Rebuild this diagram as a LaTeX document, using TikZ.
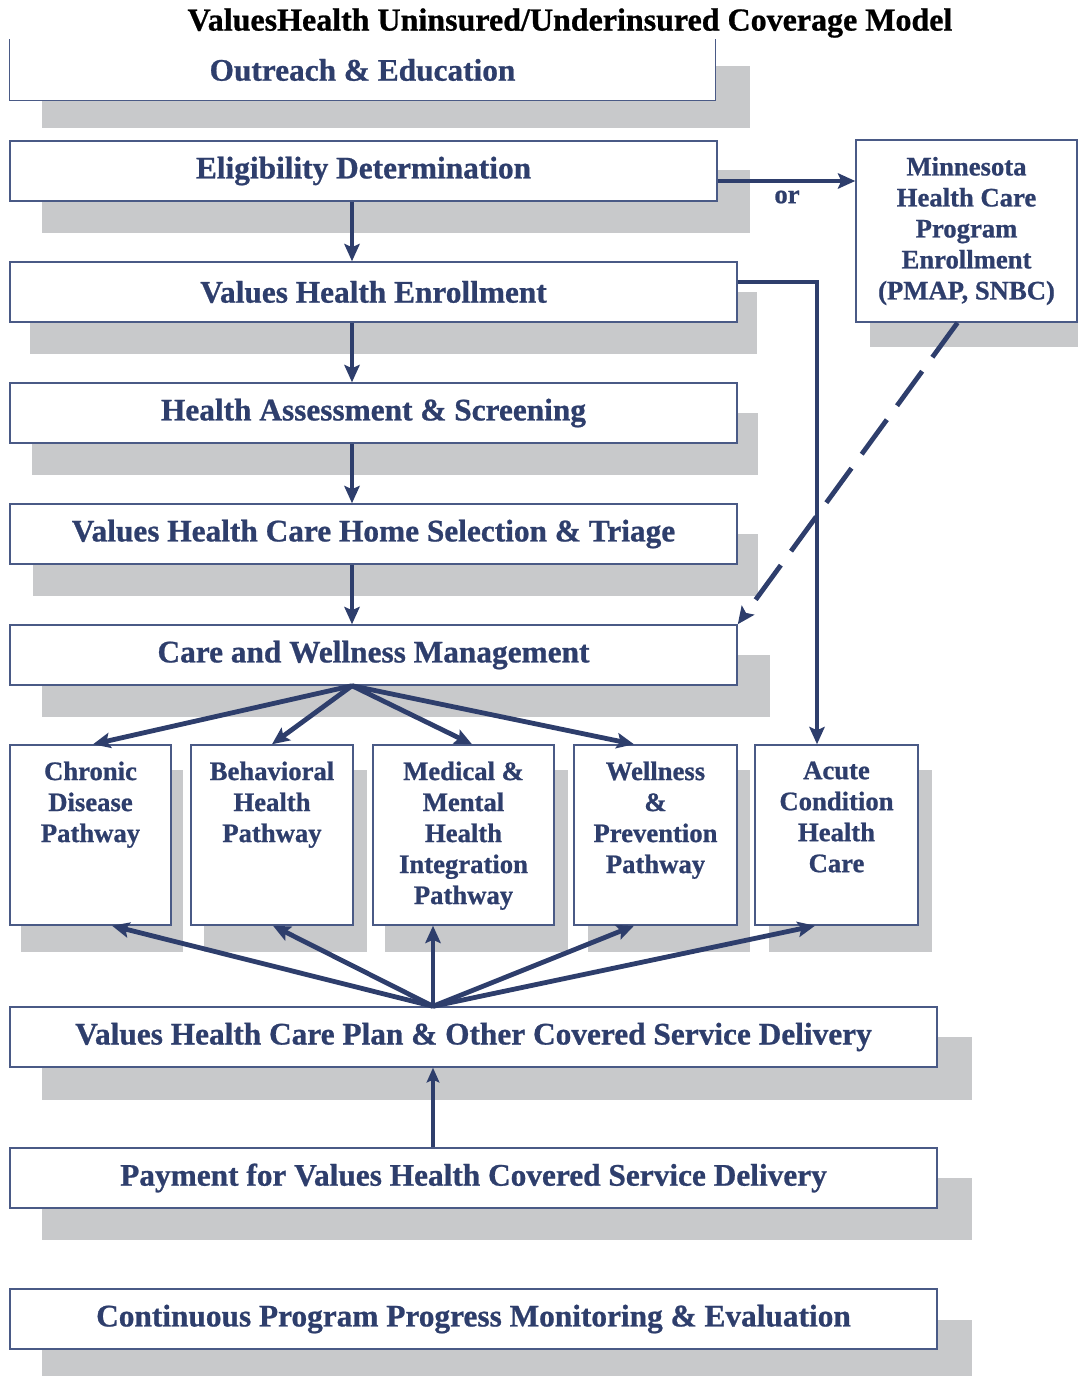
\documentclass[tikz,border=0pt]{standalone}
\usepackage{fontspec}
\setmainfont{Liberation Serif}
\newfontfamily\heavy{Liberation Serif Bold}[FakeBold=0.8]
\usetikzlibrary{arrows.meta,calc}
\definecolor{navy}{HTML}{2E3E6C}
\definecolor{bord}{HTML}{4A5A86}
\definecolor{shad}{HTML}{C8C9CB}
\def\pxu{0.75pt}
\begin{document}
\begin{tikzpicture}[x=0.75pt,y=-0.75pt,
  box/.style={draw=bord, line width=1.1pt, fill=white, inner sep=0pt},
  wtext/.style={text=navy, font=\fontsize{23.5pt}{28pt}\selectfont\heavy},
  ptext/.style={text=navy, inner sep=0pt, align=center, font=\fontsize{20pt}{23.25pt}\selectfont\heavy},
  arr/.style={draw=navy, line width=3.6pt, -{Stealth[length=13pt,width=11.5pt,inset=2.5pt]}},
  thinarr/.style={draw=navy, line width=2.6pt, -{Stealth[length=11pt,width=9.5pt,inset=2pt]}}]
\useasboundingbox (0,0) rectangle (1078,1376);
% shadows
\fill[shad] (42,66) rectangle (750,128);
\fill[shad] (42,170) rectangle (750,233);
\fill[shad] (870,165) rectangle (1078,347);
\fill[shad] (30,292) rectangle (757,354);
\fill[shad] (32,413) rectangle (758,475);
\fill[shad] (33,534) rectangle (758,596);
\fill[shad] (42,655) rectangle (770,717);
\fill[shad] (21,770) rectangle (183,952);
\fill[shad] (204,770) rectangle (367,952);
\fill[shad] (385,770) rectangle (568,952);
\fill[shad] (588,770) rectangle (750,952);
\fill[shad] (769,770) rectangle (932,952);
\fill[shad] (42,1037) rectangle (972,1100);
\fill[shad] (42,1178) rectangle (972,1240);
\fill[shad] (42,1320) rectangle (972,1376);
% title
\node[font=\fontsize{24pt}{28pt}\selectfont\heavy, inner sep=0pt] (title) at (570,23) {ValuesHealth Uninsured/Underinsured Coverage Model};
% boxes
\node[box, draw=none, wtext, minimum width=705*\pxu, minimum height=60*\pxu] (out) at (362.5,70) {Outreach \& Education};
\draw[bord, line width=1.1pt] (out.north west) -- (out.south west) -- (out.south east) -- (out.north east);
\node[box, wtext, minimum width=707*\pxu, minimum height=60*\pxu] (elig) at (363.5,171) {Eligibility Determination};
\node[box, ptext, minimum width=221*\pxu, minimum height=182*\pxu] (mn) at (966.5,231) {Minnesota\\Health Care\\Program\\Enrollment\\(PMAP, SNBC)};
\node[box, wtext, minimum width=727*\pxu, minimum height=60*\pxu] (enr) at (373.5,292) {Values Health Enrollment};
\node[box, wtext, minimum width=727*\pxu, minimum height=60*\pxu] (ass) at (373.5,413) {Health Assessment \& Screening};
\node[box, wtext, minimum width=727*\pxu, minimum height=60*\pxu] (home) at (373.5,534) {Values Health Care Home Selection \& Triage};
\node[box, wtext, minimum width=727*\pxu, minimum height=60*\pxu] (cw) at (373.5,655) {Care and Wellness Management};
% pathway boxes
\node[box, minimum width=161*\pxu, minimum height=180*\pxu] (chron) at (90.5,835) {};
\node[box, minimum width=162*\pxu, minimum height=180*\pxu] (beh) at (272,835) {};
\node[box, minimum width=181*\pxu, minimum height=180*\pxu] (med) at (463.5,835) {};
\node[box, minimum width=163*\pxu, minimum height=180*\pxu] (wel) at (655.5,835) {};
\node[box, minimum width=163*\pxu, minimum height=180*\pxu] (acu) at (836.5,835) {};
\node[ptext, anchor=north] (chronT) at ([yshift=-17*\pxu]chron.north) {Chronic\\Disease\\Pathway};
\node[ptext, anchor=north] (behT) at ([yshift=-17*\pxu]beh.north) {Behavioral\\Health\\Pathway};
\node[ptext, anchor=north] (medT) at ([yshift=-17*\pxu]med.north) {Medical \&\\Mental\\Health\\Integration\\Pathway};
\node[ptext, anchor=north] (welT) at ([yshift=-17*\pxu]wel.north) {Wellness\\\&\\Prevention\\Pathway};
\node[ptext, anchor=north] (acuT) at ([yshift=-17*\pxu]acu.north) {Acute\\Condition\\Health\\Care};
% bottom boxes
\node[box, wtext, minimum width=927*\pxu, minimum height=60*\pxu] (plan) at (473.5,1037) {Values Health Care Plan \& Other Covered Service Delivery};
\node[box, wtext, minimum width=927*\pxu, minimum height=60*\pxu] (pay) at (473.5,1178) {Payment for Values Health Covered Service Delivery};
\node[box, wtext, minimum width=927*\pxu, minimum height=60*\pxu] (cont) at (473.5,1319) {Continuous Program Progress Monitoring \& Evaluation};
% spine coordinates
\coordinate (spine) at (352,0);
\coordinate (spine2) at (433,0);
% vertical arrows
\draw[arr] (elig.south -| spine) -- (enr.north -| spine);
\draw[arr] (enr.south -| spine) -- (ass.north -| spine);
\draw[arr] (ass.south -| spine) -- (home.north -| spine);
\draw[arr] (home.south -| spine) -- (cw.north -| spine);
% or arrow
\coordinate (orS) at ([yshift=-10*\pxu]elig.east);
\draw[arr] (orS) -- (orS -| mn.west);
\node[text=navy, font=\fontsize{20pt}{24pt}\selectfont\heavy, inner sep=0pt] (orT) at (787,197) {or};
% enrollment to acute
\draw[arr] ([yshift=10*\pxu]enr.east) -| ([xshift=-19.5*\pxu]acu.north);
% dashed from MN
\draw[arr, dash pattern=on 32pt off 13pt] ([xshift=-9*\pxu]mn.south) -- (cw.north east);
% care & wellness to pathways
\draw[arr] (cw.south -| spine) -- ([xshift=2.5*\pxu]chron.north);
\draw[arr] (cw.south -| spine) -- (beh.north);
\draw[arr] (cw.south -| spine) -- ([xshift=8.5*\pxu]med.north);
\draw[arr] (cw.south -| spine) -- ([xshift=-21.5*\pxu]wel.north);
% plan to pathways
\draw[arr] (plan.north -| spine2) -- ([xshift=21.5*\pxu]chron.south);
\draw[arr] (plan.north -| spine2) -- ([xshift=1*\pxu]beh.south);
\draw[arr] (plan.north -| spine2) -- (med.south -| spine2);
\draw[arr] (plan.north -| spine2) -- ([xshift=-21.5*\pxu]wel.south);
\draw[arr] (plan.north -| spine2) -- ([xshift=-21.5*\pxu]acu.south);
% payment to plan
\draw[thinarr] (pay.north -| spine2) -- (plan.south -| spine2);
\end{tikzpicture}
\end{document}
